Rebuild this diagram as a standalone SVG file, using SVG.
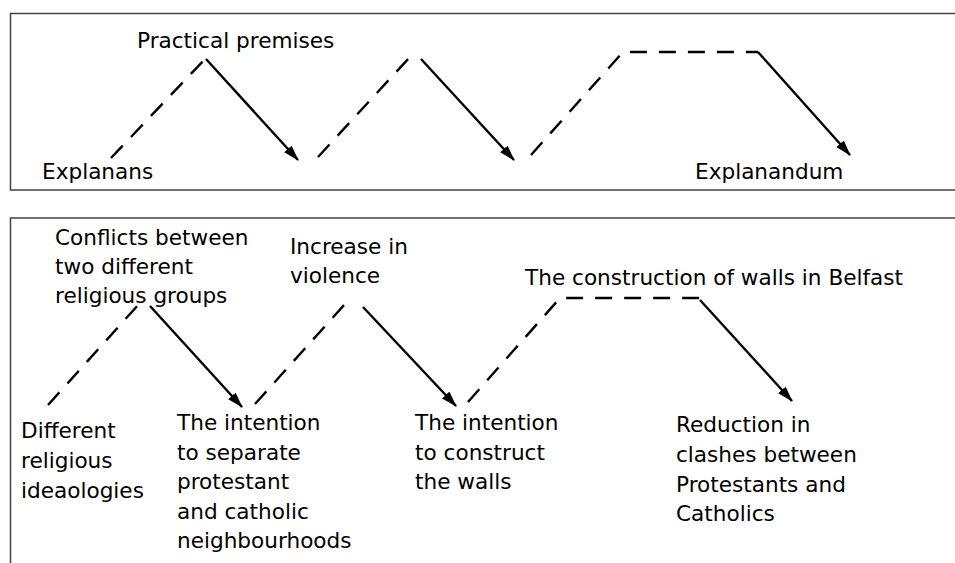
<svg xmlns="http://www.w3.org/2000/svg" width="955" height="563" viewBox="0 0 955 563">
<style>
.frame{fill:none;stroke:#444;stroke-width:1.5}
.dash{fill:none;stroke:#000;stroke-width:2.4;stroke-dasharray:17 12}
.solid{fill:none;stroke:#000;stroke-width:2.4;marker-end:url(#ah)}
text{font-family:"DejaVu Sans","Liberation Sans",sans-serif;font-size:21.6px;fill:#000}
</style>
<defs>
<marker id="ah" viewBox="0 0 16 10" refX="15" refY="5" markerWidth="16" markerHeight="10" markerUnits="userSpaceOnUse" orient="auto">
<path d="M0,0 L16,5 L0,10 Z" fill="#000"/>
</marker>
</defs>
<rect width="955" height="563" fill="#fff"/>
<path class="frame" d="M958,13.5 H10.5 V190 H958"/>
<path class="frame" d="M958,218 H10.5 V565"/>
<g id="connectors">
<line class="dash" x1="111" y1="158" x2="205" y2="59"/>
<line class="solid" x1="206" y1="59" x2="298" y2="160"/>
<line class="dash" x1="318" y1="157" x2="409" y2="58"/>
<line class="solid" x1="421" y1="59" x2="514" y2="160"/>
<polyline class="dash" points="531,155 623,52 758,52"/>
<line class="solid" x1="758" y1="52" x2="850" y2="155"/>
<line class="dash" x1="48" y1="405" x2="139" y2="304"/>
<line class="solid" x1="150" y1="306" x2="242" y2="407"/>
<line class="dash" x1="255" y1="404" x2="345" y2="304"/>
<line class="solid" x1="363" y1="307" x2="456" y2="406"/>
<polyline class="dash" points="468,402 560,298 700,298"/>
<line class="solid" x1="700" y1="300" x2="792" y2="401"/>
</g>
<g id="practical-premises"><text x="137" y="48">Practical premises</text></g>
<g id="explanans"><text x="42" y="179">Explanans</text></g>
<g id="explanandum"><text x="695" y="179">Explanandum</text></g>
<g id="conflicts"><text x="55" y="245">Conflicts between</text><text x="55" y="274">two different</text><text x="55" y="303">religious groups</text></g>
<g id="violence"><text x="290" y="254">Increase in</text><text x="290" y="283">violence</text></g>
<g id="walls"><text x="525" y="285">The construction of walls in Belfast</text></g>
<g id="ideologies"><text x="21" y="438">Different</text><text x="21" y="468">religious</text><text x="21" y="498">ideaologies</text></g>
<g id="separate"><text x="177" y="430">The intention</text><text x="177" y="460">to separate</text><text x="177" y="489">protestant</text><text x="177" y="519">and catholic</text><text x="177" y="548">neighbourhoods</text></g>
<g id="construct"><text x="415" y="430">The intention</text><text x="415" y="460">to construct</text><text x="415" y="489">the walls</text></g>
<g id="reduction"><text x="676" y="432">Reduction in</text><text x="676" y="462">clashes between</text><text x="676" y="492">Protestants and</text><text x="676" y="521">Catholics</text></g>
</svg>
